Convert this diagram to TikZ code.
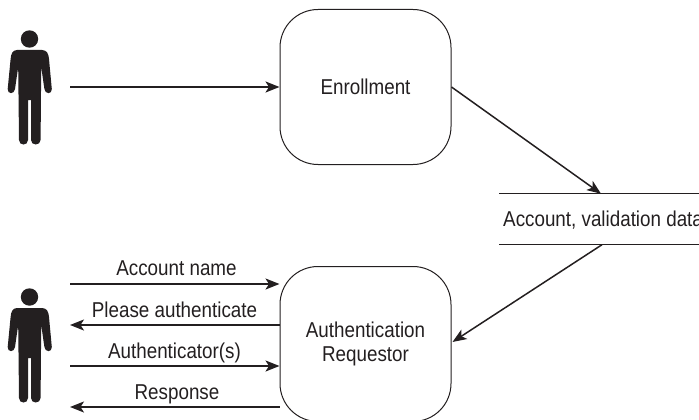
\documentclass[tikz,border=0pt]{standalone}
\usepackage{fontspec}
\setmainfont[FakeStretch=0.875]{Liberation Sans}
\usetikzlibrary{arrows.meta}
\definecolor{ink}{HTML}{231F20}
\tikzset{
  x=1pt,y=-1pt,
  flow/.style={draw=ink,line width=1.5pt,-{Stealth[length=14pt,width=11pt,inset=3.5pt]}},
  procbox/.style={draw=ink,line width=1pt,rounded corners=38pt,minimum width=171pt,minimum height=155pt,inner sep=0pt,align=center,font=\fontsize{21.5}{23.5}\selectfont,text=ink},
  lbl/.style={inner sep=0pt,font=\fontsize{21.5}{23.5}\selectfont,text=ink,anchor=base},
  storeline/.style={draw=ink,line width=1.2pt},
  person/.pic={
    \fill[ink] (29.5,39) circle (8.7);
    \fill[ink] (17,50) -- (42,50) .. controls (47,50) and (48.6,54) .. (49,59) -- (51.8,89)
      .. controls (52.2,94.5) and (45,94.5) .. (44.4,89) -- (41.2,67) -- (40.6,140)
      .. controls (40.4,146) and (31,146) .. (31,140) -- (31,100) -- (28,100) -- (28,140)
      .. controls (28,146) and (19,146) .. (19,140) -- (18.2,67) -- (15,89)
      .. controls (14.4,94.5) and (7.3,94.5) .. (7.7,89) -- (10.6,59) .. controls (11,54) and (12.6,50) .. (17,50) -- cycle;
  }
}
\begin{document}
\begin{tikzpicture}
\useasboundingbox (0,0) rectangle (699,420);
\clip (0,0) rectangle (699,420);
\pic (userA) at (0,0) {person};
\pic (userB) at (0,258) {person};
\node[procbox] (enroll) at (365.5,87) {Enrollment};
\node[procbox] (auth) at (365.5,344) {Authentication\\Requestor};
\node[lbl,anchor=base west] (store) at (503,226) {Account, validation data};
\coordinate (storeTL) at (499,193.7);
\coordinate (storeTR) at (699,193.7);
\coordinate (storeBL) at (499,244.7);
\coordinate (storeBR) at (699,244.7);
\coordinate (storeIn) at (601,193.7);
\coordinate (storeOut) at (602,244.7);
\coordinate (authIn) at (452.5,342);
\coordinate (a0) at (70,87);
\coordinate (a1) at (70,284);
\coordinate (a2) at (70,325);
\coordinate (a3) at (70,366);
\coordinate (a4) at (70,407);
\draw[storeline] (storeTL) -- (storeTR);
\draw[storeline] (storeBL) -- (storeBR);
\draw[flow] (a0) -- (enroll.west);
\draw[flow] (enroll.east) -- (storeIn);
\draw[flow] (storeOut) -- (authIn);
\draw[flow] (a1) -- (a1 -| auth.west);
\draw[flow] (a2 -| auth.west) -- (a2);
\draw[flow] (a3) -- (a3 -| auth.west);
\draw[flow] (a4 -| auth.west) -- (a4);
\node[lbl] (l1) at (176.5,275) {Account name};
\node[lbl] (l2) at (174.5,317) {Please authenticate};
\node[lbl] (l3) at (174.5,358) {Authenticator(s)};
\node[lbl] (l4) at (177,399) {Response};
\end{tikzpicture}
\end{document}
